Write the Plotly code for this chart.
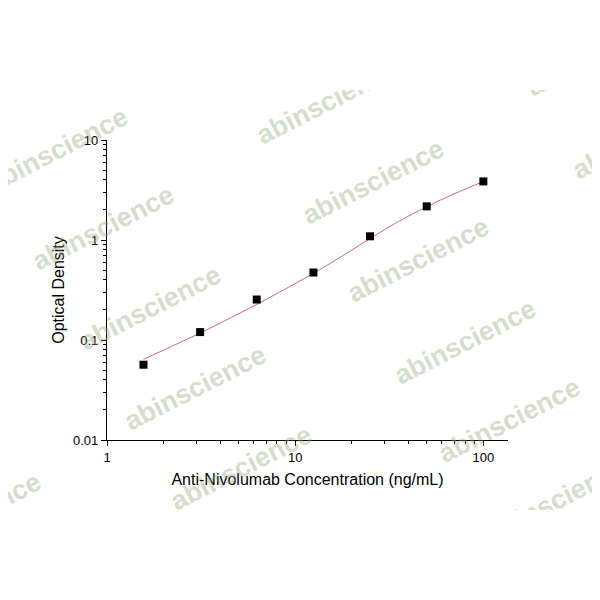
import plotly.graph_objects as go

# ---- data ----
concentration = [1.5625, 3.125, 6.25, 12.5, 25, 50, 100]
optical_density = [0.0566, 0.120, 0.254, 0.473, 1.089, 2.17, 3.85]

# fitted curve
fit_x = [1.5625, 2.2, 3.125, 4.4, 6.25, 8.8, 12.5, 17.7, 25, 35.4, 50, 70.7, 100]
fit_y = [0.0641, 0.0861, 0.1172, 0.1618, 0.2265, 0.3214, 0.4645, 0.687, 1.035, 1.531, 2.153, 2.917, 3.846]

x_tick_vals = [1, 10, 100]
x_tick_text = ["1", "10", "100"]
y_tick_vals = [0.01, 0.1, 1, 10]
y_tick_text = ["0.01", "0.1", "1", "10"]

x_title = "Anti-Nivolumab Concentration (ng/mL)"
y_title = "Optical Density"
watermark = "abinscience"

# ---- layout geometry (pixels; page has an 8px body margin) ----
OFF = 8
W, H = 600, 600
L, T = 107 - OFF, 140 - OFF
PW, PH = 401, 300
R, B = W - L - PW, H - T - PH

def px(x):
    return (x - OFF - L) / PW

def py(y):
    return (T + PH - (y - OFF)) / PH

font_family = "Arial, Liberation Sans, sans-serif"

fig = go.Figure()
fig.add_trace(go.Scatter(
    x=fit_x, y=fit_y, mode="lines", line=dict(color="#c46f7b", width=1, shape="spline"),
    hoverinfo="skip", showlegend=False))
fig.add_trace(go.Scatter(
    x=concentration, y=optical_density, mode="markers",
    marker=dict(symbol="square", size=8, color="black"), showlegend=False))

minor_x = [m * 10 ** d for d in range(0, 2) for m in range(2, 10)]
minor_y = [m * 10 ** d for d in range(-2, 1) for m in range(2, 10)]

fig.update_xaxes(
    type="log", range=[0, 2.131], tickvals=x_tick_vals, ticktext=x_tick_text,
    ticks="outside", ticklen=5, tickwidth=1, tickcolor="black",
    showline=True, linecolor="black", linewidth=1.2, showgrid=False, zeroline=False,
    minor=dict(tickvals=minor_x, ticks="outside", ticklen=3, tickcolor="black", tickwidth=1, showgrid=False),
    tickfont=dict(family=font_family, size=13, color="black"),
    title=dict(text=x_title, font=dict(family=font_family, size=16, color="black"), standoff=10),
)
fig.update_yaxes(
    type="log", range=[-2, 1], tickvals=y_tick_vals, ticktext=y_tick_text,
    ticks="outside", ticklen=5, tickwidth=1, tickcolor="black",
    showline=True, linecolor="black", linewidth=1.2, showgrid=False, zeroline=False,
    minor=dict(tickvals=minor_y, ticks="outside", ticklen=3, tickcolor="black", tickwidth=1, showgrid=False),
    tickfont=dict(family=font_family, size=13, color="black"),
    title=dict(text=y_title, font=dict(family=font_family, size=16, color="black"), standoff=4),
)

# watermark centres (page pixels)
wm_centres = [(57, 150), (103, 228), (150, 308), (195, 388), (241, 468),
              (327, 102), (373, 182), (418, 260), (465, 342), (510, 420), (557, 500),
              (597, 54), (643, 137), (285, 550), (-30, 515)]
annotations = []
for cx, cy in wm_centres:
    annotations.append(dict(
        text=watermark, xref="paper", yref="paper", x=px(cx), y=py(cy),
        xanchor="center", yanchor="middle", showarrow=False, textangle=-27,
        font=dict(family=font_family, size=27, color="rgba(150,165,122,0.4)", weight="bold")))

# white bands hide the watermark outside the image strip (page y < 90 and y > 510)
for cy, hh in [(45, 90), (555, 90)]:
    annotations.append(dict(
        text=" ", xref="paper", yref="paper", x=px(300), y=py(cy),
        xanchor="center", yanchor="middle", showarrow=False,
        width=W + 40, height=hh, bgcolor="white", borderpad=0, borderwidth=0))

fig.update_layout(
    width=W, height=H, margin=dict(l=L, r=R, t=T, b=B, autoexpand=False),
    paper_bgcolor="white", plot_bgcolor="white", annotations=annotations,
    font=dict(family=font_family, color="black"),
)

fig.write_html("out.html")
